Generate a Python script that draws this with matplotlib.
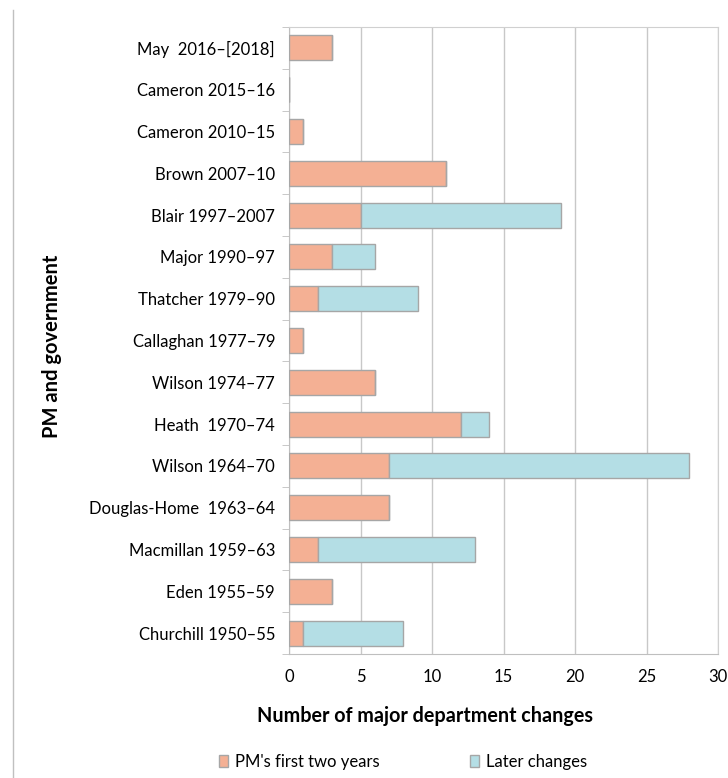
import matplotlib
matplotlib.use("Agg")
import matplotlib.pyplot as plt
from matplotlib.lines import Line2D
import numpy as np

plt.rcParams['font.family'] = ['Lato', 'DejaVu Sans']

categories = ["Churchill 1950–55", "Eden 1955–59", "Macmillan 1959–63",
              "Douglas-Home  1963–64", "Wilson 1964–70", "Heath  1970–74",
              "Wilson 1974–77", "Callaghan 1977–79", "Thatcher 1979–90",
              "Major 1990–97", "Blair 1997–2007", "Brown 2007–10",
              "Cameron 2010–15", "Cameron 2015–16", "May  2016–[2018]"]
first_two_years = [1, 3, 2, 7, 7, 12, 6, 1, 2, 3, 5, 11, 1, 0, 3]
later_changes = [7, 0, 11, 0, 21, 2, 0, 0, 7, 3, 14, 0, 0, 0, 0]
xticks = [0, 5, 10, 15, 20, 25, 30]

W, H = 728, 778
fig = plt.figure(figsize=(W/100, H/100), dpi=100)
ax = fig.add_axes([289/W, 1-654/H, (718-289)/W, (654-27)/H])

y = np.arange(len(categories))
c1, c2 = "#F4B094", "#B4DEE5"
ec = "#A6A6A6"
ax.barh(y, first_two_years, height=0.6, color=c1, edgecolor=ec, linewidth=1, label="PM's first two years", zorder=3)
ax.barh(y, later_changes, left=first_two_years, height=0.6, color=c2, edgecolor=ec, linewidth=1, label="Later changes", zorder=3)

ax.set_xlim(0, 30)
ax.set_ylim(-0.5, len(categories)-0.5)
ax.set_xticks(xticks)
ax.set_xticklabels([str(t) for t in xticks], fontsize=12)
ax.xaxis.grid(True, color="#C8C8C8", linewidth=1, zorder=0)
ax.tick_params(axis='x', length=0, pad=11)

ax.set_yticks(y)
ax.set_yticklabels(categories, fontsize=12)
ax.tick_params(axis='y', length=0, pad=10)
ax.set_yticks(np.arange(-0.5, len(categories), 1), minor=True)
ax.tick_params(axis='y', which='minor', length=5, color="#BFBFBF", direction='out')

for s in ax.spines.values():
    s.set_color("#D0D0D0")
ax.spines['left'].set_color("#BFBFBF")
ax.spines['bottom'].set_color("#BFBFBF")

fig.text(425/W, 1-716/H, "Number of major department changes", fontsize=14.2,
         fontweight='bold', ha='center', va='center')
fig.text(52/W, 1-346/H, "PM and government", rotation=90, fontsize=14.5, fontweight='bold',
         ha='center', va='center')

handles, labels = ax.get_legend_handles_labels()
fig.legend(handles, labels, loc='center', bbox_to_anchor=(403/W, 1-762/H), ncol=2,
           frameon=False, fontsize=12, handlelength=0.55, handleheight=0.7,
           columnspacing=5.4, handletextpad=0.4, borderpad=0, borderaxespad=0)

fig.add_artist(Line2D([13/W, 13/W], [0, 1-10/H], transform=fig.transFigure, color="#C0C0C0", linewidth=1))

fig.savefig("out.png", dpi=100)
